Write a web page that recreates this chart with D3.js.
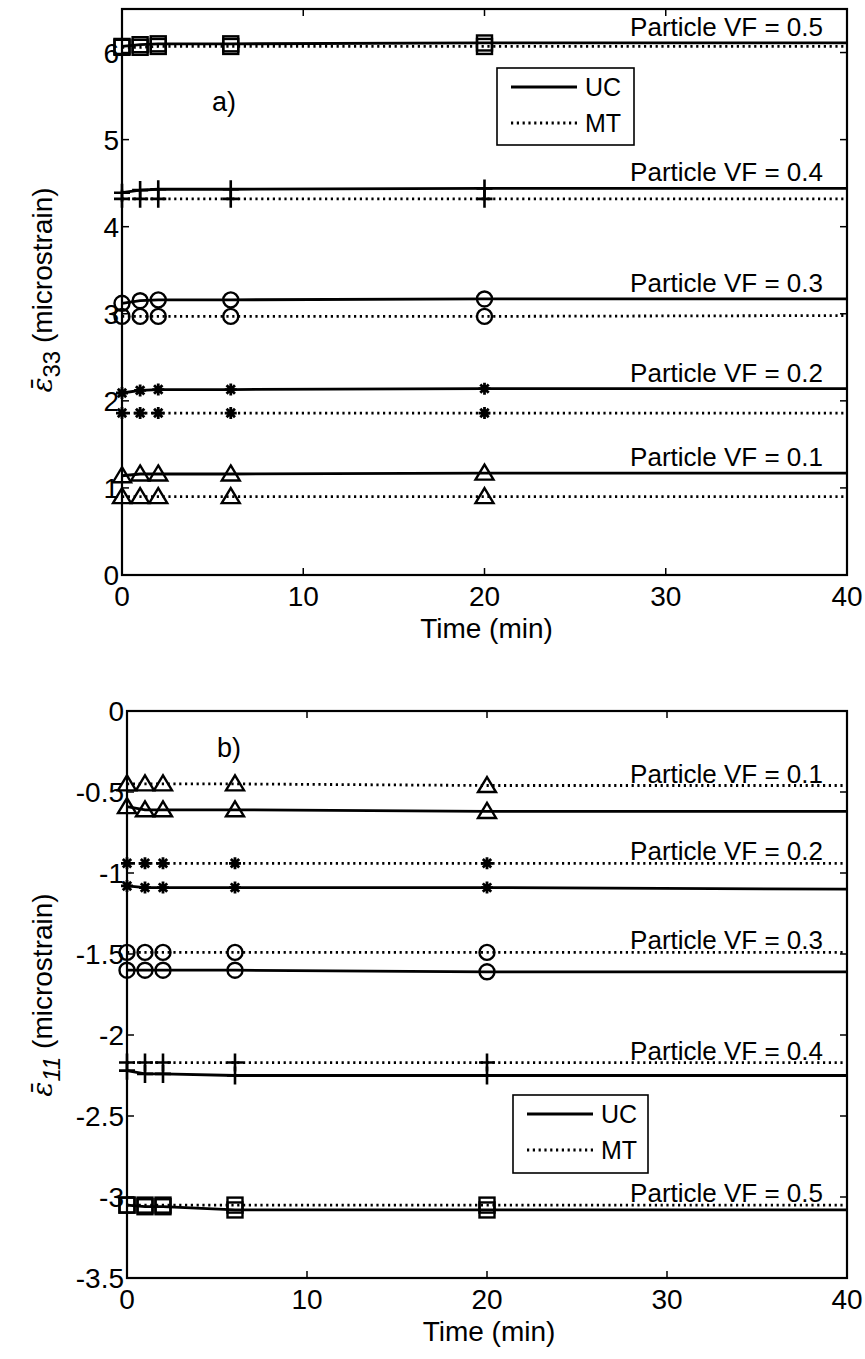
<!DOCTYPE html>
<html>
<head>
<meta charset="utf-8">
<script src="https://cdn.jsdelivr.net/npm/d3@7"></script>
<style>
  body { margin: 0; background: #fff; }
  text { font-family: "Liberation Sans", Arial, sans-serif; fill: #000; }
</style>
</head>
<body>
<div id="chart"></div>
<script>
// time points (min); markers shown on the first five
const times = [0, 1, 2, 6, 20, 40];
const markerCount = 5;
const fractions = ["0.1", "0.2", "0.3", "0.4", "0.5"];
const markers = ["triangle", "asterisk", "circle", "plus", "square"];

// a) eps33
const ucTop = [
  [1.14, 1.16, 1.16, 1.16, 1.17, 1.17],
  [2.09, 2.12, 2.13, 2.13, 2.14, 2.14],
  [3.12, 3.15, 3.16, 3.16, 3.17, 3.17],
  [4.39, 4.42, 4.43, 4.43, 4.44, 4.44],
  [6.07, 6.09, 6.10, 6.10, 6.11, 6.11]
];
const mtTop = [
  [0.90, 0.90, 0.90, 0.90, 0.90, 0.90],
  [1.86, 1.86, 1.86, 1.86, 1.86, 1.86],
  [2.97, 2.97, 2.97, 2.97, 2.97, 2.98],
  [4.32, 4.32, 4.32, 4.32, 4.32, 4.32],
  [6.06, 6.06, 6.07, 6.07, 6.07, 6.07]
];
// b) eps11
const ucBottom = [
  [-0.59, -0.61, -0.61, -0.61, -0.62, -0.62],
  [-1.08, -1.09, -1.09, -1.09, -1.09, -1.10],
  [-1.60, -1.60, -1.60, -1.60, -1.61, -1.61],
  [-2.22, -2.24, -2.24, -2.25, -2.25, -2.25],
  [-3.05, -3.06, -3.06, -3.08, -3.08, -3.08]
];
const mtBottom = [
  [-0.45, -0.45, -0.45, -0.45, -0.46, -0.46],
  [-0.94, -0.94, -0.94, -0.94, -0.94, -0.94],
  [-1.49, -1.49, -1.49, -1.49, -1.49, -1.49],
  [-2.17, -2.17, -2.17, -2.17, -2.17, -2.17],
  [-3.05, -3.05, -3.05, -3.05, -3.05, -3.05]
];

const xTicks = [0, 10, 20, 30, 40];
const yTicksTop = [0, 1, 2, 3, 4, 5, 6];
const yTickLabelsTop = ["0", "1", "2", "3", "4", "5", "6"];
const yTicksBottom = [-3.5, -3, -2.5, -2, -1.5, -1, -0.5, 0];
const yTickLabelsBottom = ["-3.5", "-3", "-2.5", "-2", "-1.5", "-1", "-0.5", "0"];

const W = 865, H = 1359;
const svg = d3.select("#chart").append("svg")
  .attr("width", W).attr("height", H);

function drawMarker(g, type, x, y) {
  const sw = 2.4;
  if (type === "square") {
    g.append("rect").attr("x", x - 7.5).attr("y", y - 7.5).attr("width", 15).attr("height", 15)
      .attr("fill", "none").attr("stroke", "#000").attr("stroke-width", sw);
  } else if (type === "circle") {
    g.append("circle").attr("cx", x).attr("cy", y).attr("r", 7.5)
      .attr("fill", "none").attr("stroke", "#000").attr("stroke-width", sw);
  } else if (type === "triangle") {
    g.append("path").attr("d", `M${x},${y - 8.5}L${x + 9},${y + 6.5}L${x - 9},${y + 6.5}Z`)
      .attr("fill", "none").attr("stroke", "#000").attr("stroke-width", sw);
  } else if (type === "plus") {
    g.append("path").attr("d", `M${x - 8},${y}H${x + 8}M${x},${y - 9}V${y + 9}`)
      .attr("stroke", "#000").attr("stroke-width", 2.6);
  } else if (type === "asterisk") {
    const r = 6, d = 4.2;
    g.append("path")
      .attr("d", `M${x - r},${y}H${x + r}M${x},${y - r}V${y + r}M${x - d},${y - d}L${x + d},${y + d}M${x - d},${y + d}L${x + d},${y - d}`)
      .attr("stroke", "#000").attr("stroke-width", 2.8);
  }
}

function drawPanel(cfg) {
  const x = d3.scaleLinear().domain([0, 40]).range([cfg.left, cfg.right]);
  const y = d3.scaleLinear().domain(cfg.yDomain).range([cfg.bottom, cfg.top]);
  const g = svg.append("g");

  const line = d3.line().x((d, i) => x(times[i])).y(d => y(d));

  // curves
  cfg.uc.forEach((vals, k) => {
    g.append("path").datum(vals).attr("d", line)
      .attr("fill", "none").attr("stroke", "#000").attr("stroke-width", 2.8);
    g.append("path").datum(cfg.mt[k]).attr("d", line)
      .attr("fill", "none").attr("stroke", "#000").attr("stroke-width", 2.8)
      .attr("stroke-dasharray", "2.2,3.6");
  });

  // markers
  cfg.uc.forEach((vals, k) => {
    for (let i = 0; i < markerCount; i++) {
      drawMarker(g, markers[k], x(times[i]), y(vals[i]));
      drawMarker(g, markers[k], x(times[i]), y(cfg.mt[k][i]));
    }
  });

  // VF labels
  fractions.forEach((f, k) => {
    const ref = cfg.labelOn === "uc" ? cfg.uc[k][5] : cfg.mt[k][5];
    g.append("text")
      .attr("x", cfg.right - 24)
      .attr("y", y(ref) - cfg.labelGap)
      .attr("text-anchor", "end")
      .attr("font-size", 26)
      .text(`Particle VF = ${f}`);
  });

  // axes box
  g.append("rect")
    .attr("x", cfg.left).attr("y", cfg.top)
    .attr("width", cfg.right - cfg.left).attr("height", cfg.bottom - cfg.top)
    .attr("fill", "none").attr("stroke", "#000").attr("stroke-width", 2.2);

  const tl = 7;
  xTicks.forEach(t => {
    g.append("line").attr("x1", x(t)).attr("x2", x(t)).attr("y1", cfg.bottom).attr("y2", cfg.bottom - tl)
      .attr("stroke", "#000").attr("stroke-width", 1.5);
    g.append("line").attr("x1", x(t)).attr("x2", x(t)).attr("y1", cfg.top).attr("y2", cfg.top + tl)
      .attr("stroke", "#000").attr("stroke-width", 1.5);
    g.append("text").attr("x", x(t)).attr("y", cfg.bottom + 31)
      .attr("text-anchor", "middle").attr("font-size", 28).text(t);
  });
  cfg.yTicks.forEach((t, i) => {
    g.append("line").attr("x1", cfg.left).attr("x2", cfg.left + tl).attr("y1", y(t)).attr("y2", y(t))
      .attr("stroke", "#000").attr("stroke-width", 1.5);
    g.append("line").attr("x1", cfg.right).attr("x2", cfg.right - tl).attr("y1", y(t)).attr("y2", y(t))
      .attr("stroke", "#000").attr("stroke-width", 1.5);
    g.append("text").attr("x", cfg.left - 3).attr("y", y(t) + 10)
      .attr("text-anchor", "end").attr("font-size", 28).text(cfg.yTickLabels[i]);
  });

  // axis titles
  g.append("text").attr("x", (cfg.left + cfg.right) / 2 + 2).attr("y", cfg.bottom + 63)
    .attr("text-anchor", "middle").attr("font-size", 28).text("Time (min)");

  const yl = g.append("text")
    .attr("transform", `translate(${cfg.yLabelX},${cfg.yLabelY}) rotate(-90)`)
    .attr("text-anchor", "middle").attr("font-size", 28);
  yl.append("tspan").attr("font-family", "DejaVu Serif").attr("font-style", "italic").text("\u03b5\u0304");
  yl.append("tspan").attr("dy", 8).attr("font-size", 24)
    .attr("font-style", cfg.subItalic ? "italic" : "normal").text(cfg.sub);
  yl.append("tspan").attr("dy", -8).text(" (microstrain)");

  // panel tag
  g.append("text").attr("x", cfg.tagX).attr("y", cfg.tagY).attr("font-size", 27).text(cfg.tag);

  // legend
  const L = cfg.legend;
  g.append("rect").attr("x", L.x).attr("y", L.y).attr("width", L.w).attr("height", L.h)
    .attr("fill", "#fff").attr("stroke", "#000").attr("stroke-width", 1.6);
  [["UC", null], ["MT", "2.2,3.6"]].forEach(([name, dash], i) => {
    const ly = L.y + 19 + i * 36;
    g.append("line").attr("x1", L.x + 14).attr("x2", L.x + 80).attr("y1", ly).attr("y2", ly)
      .attr("stroke", "#000").attr("stroke-width", 2.8).attr("stroke-dasharray", dash);
    g.append("text").attr("x", L.x + 88).attr("y", ly + 9).attr("font-size", 25).text(name);
  });
}

drawPanel({
  left: 122, right: 847, top: 9, bottom: 575,
  yDomain: [0, 6.5], yTicks: yTicksTop, yTickLabels: yTickLabelsTop,
  uc: ucTop, mt: mtTop, labelOn: "uc", labelGap: 7,
  sub: "33", subItalic: false, yLabelX: 52, yLabelY: 290,
  tag: "a)", tagX: 212, tagY: 111,
  legend: { x: 497, y: 68, w: 137, h: 77 }
});

drawPanel({
  left: 127, right: 847, top: 711, bottom: 1278,
  yDomain: [-3.5, 0], yTicks: yTicksBottom, yTickLabels: yTickLabelsBottom,
  uc: ucBottom, mt: mtBottom, labelOn: "mt", labelGap: 3,
  sub: "11", subItalic: true, yLabelX: 52, yLabelY: 995,
  tag: "b)", tagX: 217, tagY: 757,
  legend: { x: 513, y: 1095, w: 135, h: 78 }
});
</script>
</body>
</html>
